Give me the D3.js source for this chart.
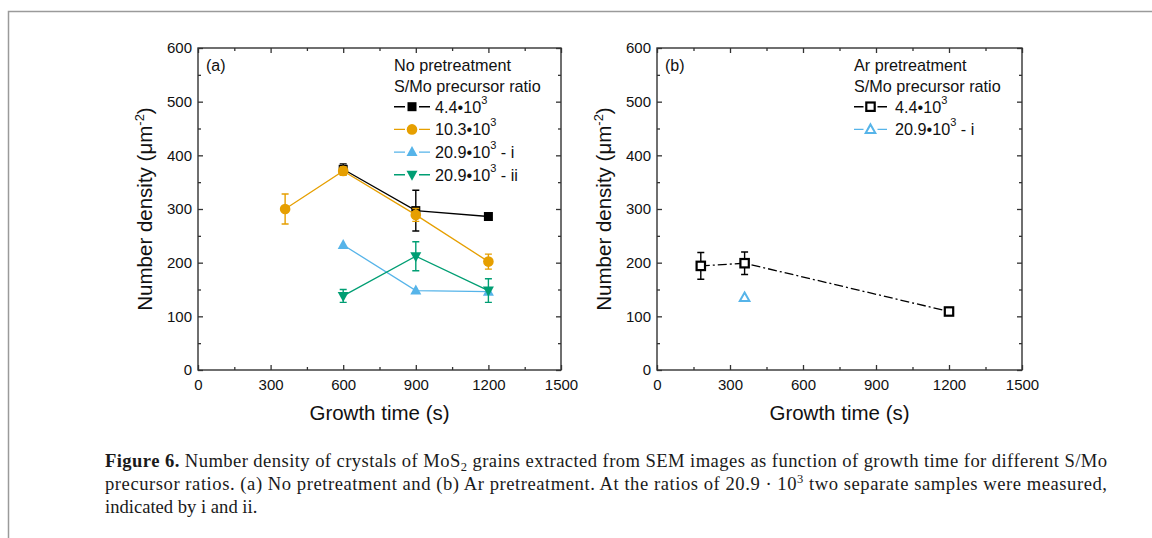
<!DOCTYPE html>
<html><head><meta charset="utf-8">
<script src="https://cdn.jsdelivr.net/npm/d3@7"></script>
<style>
body{margin:0;background:#fff;}
svg{display:block;}
</style></head>
<body>
<svg id="c" width="1152" height="538"></svg>
<script>
// ---------- data ----------
const xTicks = [0, 300, 600, 900, 1200, 1500];
const xMinor = [150, 450, 750, 1050, 1350];
const yTicks = [0, 100, 200, 300, 400, 500, 600];
const yMinor = [50, 150, 250, 350, 450, 550];

const aBlackX = [600, 900, 1200];
const aBlackY = [374, 297, 286];
const aBlackE = [10, 38, 0];

const aOrangeX = [360, 600, 900, 1200];
const aOrangeY = [300, 371, 289, 202];
const aOrangeE = [28, 8, 12, 14];

const aBlueX = [600, 900, 1200];
const aBlueY = [233, 148, 146];
const aBlueE = [0, 0, 0];

const aGreenX = [600, 900, 1200];
const aGreenY = [138, 212, 148];
const aGreenE = [12, 27, 22];

const bBlackX = [180, 360, 1200];
const bBlackY = [194, 199, 109];
const bBlackE = [25, 21, 0];

const bBlueX = [360];
const bBlueY = [135];
const bBlueE = [0];

const legendA = ["4.4•10|3", "10.3•10|3", "20.9•10|3| - i", "20.9•10|3| - ii"];
const legendB = ["4.4•10|3", "20.9•10|3| - i"];

const C = {black:"#000000", orange:"#E69F00", blue:"#56B4E9", green:"#009E73"};

// ---------- drawing ----------
const svg = d3.select("#c");
svg.append("rect").attr("width",1152).attr("height",538).attr("fill","#fff");
svg.append("path").attr("d","M8.5,538V11.5H1152").attr("fill","none").attr("stroke","#9a9a9a").attr("stroke-width",1.5);

const FONT = "'Liberation Sans', Arial, sans-serif";
const yScale = d3.scaleLinear([0,600],[370,48]);

function panel(x0, x1, label) {
  const x = d3.scaleLinear([0,1500],[x0,x1]);
  const g = svg.append("g");
  const ax = (gen, tx, ty, vals, size, labels) => {
    const a = g.append("g").attr("transform",`translate(${tx},${ty})`)
      .call(gen.tickValues(vals).tickSize(size).tickPadding(labels?4:0).tickFormat(labels? d3.format("d") : ""));
    a.select(".domain").remove();
    a.selectAll("line").attr("stroke","#333").attr("stroke-width",1.3);
    a.selectAll("text").attr("font-family",FONT).attr("font-size","15px").attr("fill","#111");
    return a;
  };
  const b = ax(d3.axisBottom(x), 0, 370, xTicks, -5, true);
  b.selectAll("text").attr("dy","0.95em").attr("y",6);
  ax(d3.axisBottom(x), 0, 370, xMinor, -3, false);
  ax(d3.axisTop(x), 0, 48, xTicks, -5, false);
  ax(d3.axisTop(x), 0, 48, xMinor, -3, false);
  const l = ax(d3.axisLeft(yScale), x0, 0, yTicks, -5, true);
  l.selectAll("text").attr("x",-6);
  ax(d3.axisLeft(yScale), x0, 0, yMinor, -3, false);
  ax(d3.axisRight(yScale), x1, 0, yTicks, -5, false);
  ax(d3.axisRight(yScale), x1, 0, yMinor, -3, false);
  g.append("rect").attr("x",x0).attr("y",48).attr("width",x1-x0).attr("height",322)
    .attr("fill","none").attr("stroke","#333").attr("stroke-width",1.4);

  const yt = g.append("text").attr("transform",`translate(${x0-46},209) rotate(-90)`)
    .attr("text-anchor","middle").attr("font-family",FONT).attr("font-size","20.5px").attr("fill","#111");
  yt.append("tspan").text("Number density (\u03BCm");
  yt.append("tspan").attr("font-size","13px").attr("dy","-8").text("-2");
  yt.append("tspan").attr("dy","8").text(")");
  g.append("text").attr("x",(x0+x1)/2).attr("y",420).attr("text-anchor","middle")
    .attr("font-family",FONT).attr("font-size","20.5px").attr("fill","#111").text("Growth time (s)");

  g.append("text").attr("x",x0+8).attr("y",65).attr("dominant-baseline","central")
    .attr("font-family",FONT).attr("font-size","16px").attr("fill","#111").text(label);
  return {g, x};
}

function marker(g, type, cx, cy, color) {
  if (type==="sq") g.append("rect").attr("x",cx-4.5).attr("y",cy-4.5).attr("width",9).attr("height",9).attr("fill",color);
  else if (type==="osq") g.append("rect").attr("x",cx-4.2).attr("y",cy-4.2).attr("width",8.4).attr("height",8.4).attr("fill","#fff").attr("stroke",color).attr("stroke-width",2.2);
  else if (type==="ci") g.append("circle").attr("cx",cx).attr("cy",cy).attr("r",5.3).attr("fill",color);
  else if (type==="up") g.append("path").attr("d",`M${cx},${cy-6}L${cx+5.5},${cy+4}L${cx-5.5},${cy+4}Z`).attr("fill",color);
  else if (type==="dn") g.append("path").attr("d",`M${cx},${cy+6}L${cx+5.5},${cy-4}L${cx-5.5},${cy-4}Z`).attr("fill",color);
  else if (type==="oup") g.append("path").attr("d",`M${cx},${cy-5}L${cx+4.8},${cy+3.5}L${cx-4.8},${cy+3.5}Z`).attr("fill","#fff").attr("stroke",color).attr("stroke-width",2);
}

function series(p, xs, ys, es, color, type, dash, drawLine) {
  const pts = xs.map((v,i)=>[p.x(v), yScale(ys[i])]);
  if (drawLine && pts.length>1)
    p.g.append("path").attr("d", d3.line()(pts)).attr("fill","none")
      .attr("stroke",color).attr("stroke-width",1.3).attr("stroke-dasharray",dash||null);
  xs.forEach((v,i)=>{
    if (es[i]>0) {
      const cx = p.x(v), t = yScale(ys[i]+es[i]), bt = yScale(ys[i]-es[i]);
      p.g.append("path").attr("d",`M${cx},${t}V${bt}M${cx-3.5},${t}H${cx+3.5}M${cx-3.5},${bt}H${cx+3.5}`)
        .attr("stroke",color).attr("stroke-width",1.4).attr("fill","none");
    }
  });
  pts.forEach(d=>marker(p.g, type, d[0], d[1], color));
}

function legend(g, lx0, lx1, tx, titles, entries) {
  titles.forEach((t,i)=>g.append("text").attr("x",lx0).attr("y",65+i*20.5).attr("dominant-baseline","central")
    .attr("font-family",FONT).attr("font-size","16.2px").attr("fill","#111").text(t));
  entries.forEach((e,i)=>{
    const yy = 106.7 + i*22.7;
    const mx = (lx0+lx1)/2;
    g.append("path").attr("d",`M${lx0},${yy}H${mx-7}M${mx+7},${yy}H${lx1}`).attr("stroke",e.color).attr("stroke-width",1.4);
    marker(g, e.type, mx, yy, e.color);
    const parts = e.text.split("|");
    const t = g.append("text").attr("x",tx).attr("y",yy).attr("dominant-baseline","central")
      .attr("font-family",FONT).attr("font-size","16.2px").attr("fill","#111");
    t.append("tspan").text(parts[0]);
    if (parts[1]) t.append("tspan").attr("font-size","11px").attr("dy","-7").text(parts[1]);
    if (parts[2]) t.append("tspan").attr("dy","7").text(parts[2]);
  });
}

const pa = panel(198, 561, "(a)");
series(pa, aBlackX, aBlackY, aBlackE, C.black, "sq", null, true);
series(pa, aOrangeX, aOrangeY, aOrangeE, C.orange, "ci", null, true);
series(pa, aBlueX, aBlueY, aBlueE, C.blue, "up", null, true);
series(pa, aGreenX, aGreenY, aGreenE, C.green, "dn", null, true);
legend(pa.g, 394, 430, 435, ["No pretreatment","S/Mo precursor ratio"], [
  {color:C.black, type:"sq", text:legendA[0]},
  {color:C.orange, type:"ci", text:legendA[1]},
  {color:C.blue, type:"up", text:legendA[2]},
  {color:C.green, type:"dn", text:legendA[3]}]);

const pb = panel(657, 1022, "(b)");
series(pb, bBlackX, bBlackY, bBlackE, C.black, "osq", "9,3,2,3", true);
series(pb, bBlueX, bBlueY, bBlueE, C.blue, "oup", null, false);
legend(pb.g, 854, 887, 895, ["Ar pretreatment","S/Mo precursor ratio"], [
  {color:C.black, type:"osq", text:legendB[0]},
  {color:C.blue, type:"oup", text:legendB[1]}]);

// ---------- caption ----------
const SERIF = "'Liberation Serif', 'Times New Roman', serif";
const cap = svg.append("g").attr("font-family",SERIF).attr("font-size","18.6px").attr("fill","#1a1a1a");
const l1 = cap.append("text").attr("x",105).attr("y",467).attr("textLength",1002).attr("lengthAdjust","spacing");
l1.append("tspan").attr("font-weight","bold").text("Figure 6.");
l1.append("tspan").text(" Number density of crystals of MoS");
l1.append("tspan").attr("font-size","12.5px").attr("dy","4").text("2");
l1.append("tspan").attr("dy","-4").text(" grains extracted from SEM images as function of growth time for different S/Mo");
const l2 = cap.append("text").attr("x",105).attr("y",490).attr("textLength",1002).attr("lengthAdjust","spacing");
l2.append("tspan").text("precursor ratios. (a) No pretreatment and (b) Ar pretreatment. At the ratios of 20.9 \u00B7 10");
l2.append("tspan").attr("font-size","12.5px").attr("dy","-7").text("3");
l2.append("tspan").attr("dy","7").text(" two separate samples were measured,");
cap.append("text").attr("x",105).attr("y",513).text("indicated by i and ii.");
</script>
</body></html>
